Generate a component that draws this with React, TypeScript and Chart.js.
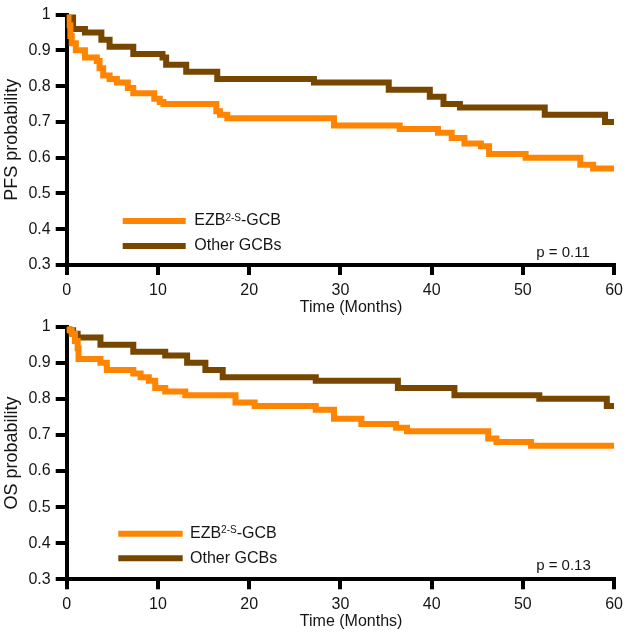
import React, { useEffect, useRef } from "react";
import { Chart, registerables } from "chart.js";

Chart.register(...registerables);

// ---------- data ----------
const xTickValues = [0, 10, 20, 30, 40, 50, 60];
const yTickValues = [0.3, 0.4, 0.5, 0.6, 0.7, 0.8, 0.9, 1];

// PFS, EZB2-S-GCB
const pfsEzbTime = [0, 0.2, 0.4, 0.55, 1.0, 2.0, 3.3, 3.6, 4.0, 4.7, 5.5, 6.7, 7.3, 9.6, 10.2, 10.6, 16.4, 16.8, 17.6, 29.3, 36.5, 40.7, 42.2, 43.6, 45.4, 46.3, 50.3, 56.3, 57.7, 60];
const pfsEzbSurv = [1, 0.97, 0.94, 0.92, 0.9, 0.88, 0.87, 0.85, 0.83, 0.82, 0.81, 0.795, 0.78, 0.765, 0.756, 0.75, 0.73, 0.72, 0.71, 0.69, 0.68, 0.67, 0.655, 0.64, 0.632, 0.61, 0.6, 0.58, 0.57, 0.57];
// PFS, Other GCBs
const pfsOthTime = [0, 0.7, 2.0, 3.8, 4.7, 7.3, 10.5, 10.9, 13.1, 16.5, 27.1, 35.3, 39.8, 41.3, 43.1, 52.4, 59.0, 60];
const pfsOthSurv = [1, 0.96, 0.95, 0.93, 0.91, 0.89, 0.88, 0.86, 0.84, 0.82, 0.81, 0.79, 0.77, 0.75, 0.74, 0.72, 0.7, 0.7];

// OS, EZB2-S-GCB
const osEzbTime = [0, 0.2, 0.55, 0.9, 1.2, 1.3, 3.7, 4.4, 7.3, 8.1, 9.0, 9.7, 10.8, 13.0, 18.5, 20.6, 27.3, 29.3, 32.3, 36.1, 37.3, 46.2, 47.1, 50.9, 60];
const osEzbSurv = [1, 0.99, 0.98, 0.96, 0.94, 0.91, 0.9, 0.88, 0.87, 0.86, 0.85, 0.83, 0.82, 0.81, 0.79, 0.78, 0.77, 0.745, 0.73, 0.72, 0.71, 0.69, 0.68, 0.67, 0.67];
// OS, Other GCBs
const osOthTime = [0, 0.3, 0.7, 1.2, 3.7, 7.3, 10.8, 13.2, 15.2, 17.1, 27.3, 36.3, 42.5, 51.8, 59.2, 60];
const osOthSurv = [1, 0.99, 0.98, 0.97, 0.95, 0.93, 0.92, 0.9, 0.88, 0.86, 0.85, 0.83, 0.81, 0.8, 0.78, 0.78];

const seriesLabels = ["EZB2-S-GCB", "Other GCBs"];
const pfsPValue = "p = 0.11";
const osPValue = "p = 0.13";
const xTitle = "Time (Months)";
const pfsYTitle = "PFS probability";
const osYTitle = "OS probability";

// ---------- styles ----------
const ORANGE = "#FF8400";
const BROWN = "#774700";
const TEXT = "#151515";
const FONT = "'Liberation Sans', Arial, Helvetica, sans-serif";

const decorPlugin = {
  id: "kmDecor",
  afterDatasetsDraw(chart: any, _args: any, opts: any) {
    const { ctx, chartArea: a } = chart;
    ctx.save();
    const rows = [
      { color: ORANGE, parts: [{ t: "EZB", sup: false }, { t: "2-S", sup: true }, { t: "-GCB", sup: false }] },
      { color: BROWN, parts: [{ t: seriesLabels[1], sup: false }] },
    ];
    rows.forEach((r, i) => {
      const y = a.bottom - opts.legendBottom + i * opts.rowGap;
      ctx.strokeStyle = r.color;
      ctx.lineWidth = 6;
      ctx.lineCap = "butt";
      ctx.beginPath();
      ctx.moveTo(a.left + opts.lineX0, y);
      ctx.lineTo(a.left + opts.lineX1, y);
      ctx.stroke();
      let x = a.left + opts.textX;
      ctx.fillStyle = TEXT;
      ctx.textAlign = "left";
      ctx.textBaseline = "middle";
      for (const p of r.parts) {
        ctx.font = `${p.sup ? 10 : 16}px ${FONT}`;
        ctx.fillText(p.t, x, y + (p.sup ? -3 : 0));
        x += ctx.measureText(p.t).width;
      }
    });
    ctx.fillStyle = TEXT;
    ctx.font = `15px ${FONT}`;
    ctx.textAlign = "right";
    ctx.textBaseline = "alphabetic";
    ctx.fillText(opts.pText, a.right - opts.pRight, a.bottom - opts.pBottom);
    ctx.font = `16px ${FONT}`;
    ctx.textAlign = "center";
    ctx.textBaseline = "middle";
    ctx.fillText(xTitle, (a.left + a.right) / 2 + opts.xTitleShift, a.bottom + opts.xTitleDy);
    ctx.restore();
  },
};

type Props = {
  top: number;
  height: number;
  padTop: number;
  xHeight: number;
  yTitle: string;
  ezbTime: number[];
  ezbSurv: number[];
  othTime: number[];
  othSurv: number[];
  decor: any;
};

function KMChart(p: Props) {
  const ref = useRef<HTMLCanvasElement>(null);
  useEffect(() => {
    const mk = (t: number[], s: number[]) => t.map((x, i) => ({ x, y: s[i] }));
    const gridX = {
      drawOnChartArea: false,
      drawTicks: true,
      tickLength: 10,
      lineWidth: 4,
      color: "#000",
    };
    const gridY = { ...gridX, tickLength: 11 };
    const chart = new Chart(ref.current as HTMLCanvasElement, {
      type: "line",
      data: {
        datasets: [
          {
            label: seriesLabels[0],
            data: mk(p.ezbTime, p.ezbSurv),
            borderColor: ORANGE,
            borderWidth: 6,
            stepped: true,
            pointRadius: 0,
            fill: false,
            borderCapStyle: "butt",
            borderJoinStyle: "miter",
          },
          {
            label: seriesLabels[1],
            data: mk(p.othTime, p.othSurv),
            borderColor: BROWN,
            borderWidth: 6,
            stepped: true,
            pointRadius: 0,
            fill: false,
            borderCapStyle: "butt",
            borderJoinStyle: "miter",
          },
        ],
      },
      options: {
        responsive: false,
        animation: false,
        devicePixelRatio: 1,
        layout: { padding: { top: p.padTop, right: 13, left: 0, bottom: 0 } },
        plugins: {
          legend: { display: false },
          tooltip: { enabled: false },
          kmDecor: p.decor,
        } as any,
        scales: {
          x: {
            type: "linear",
            min: 0,
            max: 60,
            afterFit: (s: any) => {
              s.height = p.xHeight;
            },
            afterBuildTicks: (s: any) => {
              s.ticks = xTickValues.map((v) => ({ value: v }));
            },
            ticks: {
              font: { size: 16, family: FONT },
              color: TEXT,
              padding: 6,
              maxRotation: 0,
              autoSkip: false,
            },
            grid: gridX,
            border: { display: true, width: 4, color: "#000" },
          },
          y: {
            type: "linear",
            min: 0.3,
            max: 1,
            afterFit: (s: any) => {
              s.width = 66.7;
            },
            afterBuildTicks: (s: any) => {
              s.ticks = yTickValues.map((v) => ({ value: v }));
            },
            ticks: {
              font: { size: 16, family: FONT },
              color: TEXT,
              padding: 5,
              autoSkip: false,
              callback: (v: any) => String(Math.round(Number(v) * 10) / 10),
            },
            grid: gridY,
            border: { display: true, width: 4, color: "#000" },
            title: {
              display: true,
              text: p.yTitle,
              font: { size: 18, family: FONT },
              color: TEXT,
              padding: { top: 1, bottom: 0 },
            },
          },
        },
      } as any,
      plugins: [decorPlugin as any],
    });
    return () => chart.destroy();
  }, []);
  return (
    <canvas
      ref={ref}
      width={629}
      height={p.height}
      style={{ position: "absolute", left: 0, top: p.top, width: 629, height: p.height }}
    />
  );
}

export default function App() {
  return (
    <div style={{ position: "absolute", left: 0, top: 0, width: 629, height: 636, background: "#fff" }}>
      <KMChart
        top={0}
        height={320}
        padTop={11.7}
        xHeight={55}
        yTitle={pfsYTitle}
        ezbTime={pfsEzbTime}
        ezbSurv={pfsEzbSurv}
        othTime={pfsOthTime}
        othSurv={pfsOthSurv}
        decor={{
          legendBottom: 44,
          rowGap: 25,
          lineX0: 56,
          lineX1: 119,
          textX: 127.6,
          pText: pfsPValue,
          pRight: 24.3,
          pBottom: 8.3,
          xTitleShift: 10.7,
          xTitleDy: 43,
        }}
      />
      <KMChart
        top={312}
        height={324}
        padTop={11.3}
        xHeight={56.7}
        yTitle={osYTitle}
        ezbTime={osEzbTime}
        ezbSurv={osEzbSurv}
        othTime={osOthTime}
        othSurv={osOthSurv}
        decor={{
          legendBottom: 45.6,
          rowGap: 24.6,
          lineX0: 51.6,
          lineX1: 116,
          textX: 123.3,
          pText: osPValue,
          pRight: 23.3,
          pBottom: 9.3,
          xTitleShift: 10.7,
          xTitleDy: 42.7,
        }}
      />
    </div>
  );
}
